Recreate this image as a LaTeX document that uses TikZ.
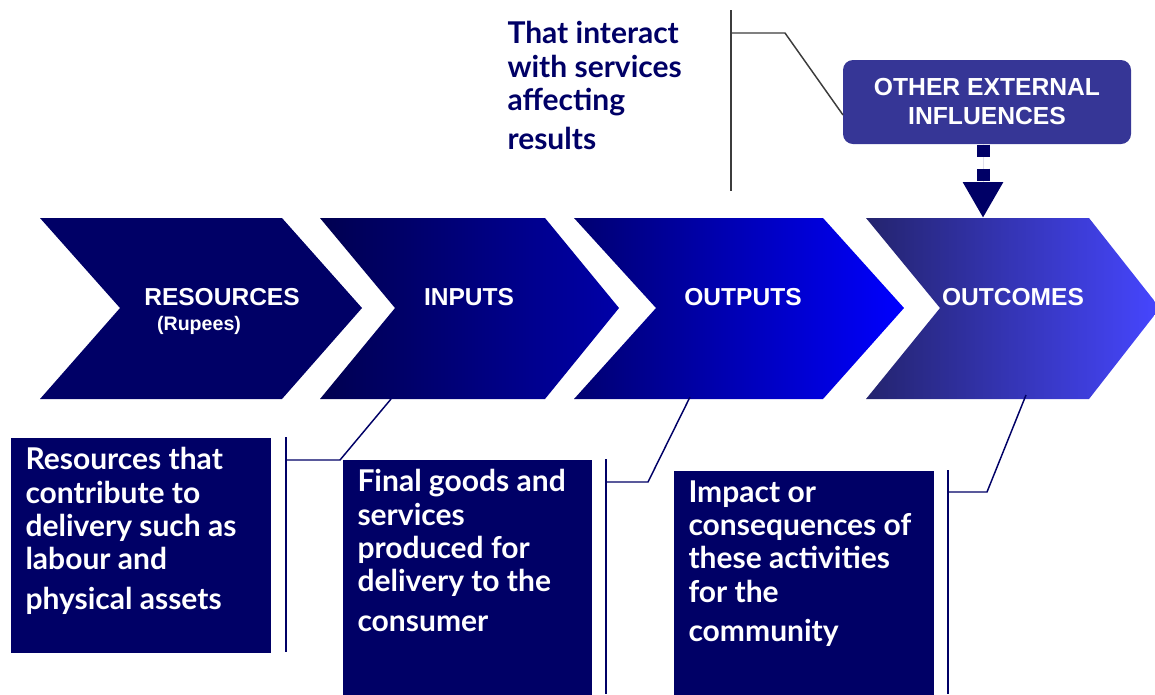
\documentclass[tikz,border=0pt]{standalone}
\usepackage{fontspec}
\setmainfont{Liberation Sans}
\newfontfamily\gillfont{Lato}
\usetikzlibrary{arrows.meta}

\definecolor{navy}{RGB}{0,0,102}
\definecolor{extblue}{RGB}{54,54,150}
\definecolor{leadgray}{RGB}{60,60,60}

\tikzset{every picture/.style={line width=0.75pt}}

\begin{document}
\begin{tikzpicture}[x=0.75pt,y=0.75pt,yscale=-1,xscale=1,
  chevlabel/.style={text=white, font=\fontsize{18.4}{20}\selectfont\bfseries, inner sep=0pt},
  notebox/.style={fill=navy, draw=none, anchor=north west, inner sep=0pt},
  notetext/.style={text=white, font=\gillfont\fontsize{22.5}{25}\selectfont\bfseries, align=left, anchor=north west, inner sep=0pt},
  leader/.style={draw=navy, line width=1.1pt},
  extarrow/.style={draw=navy, fill=navy, line width=9.75pt, dash pattern=on 9pt off 9pt, -{Triangle[length=27pt,width=28.5pt]}}]
%set diagram size
\useasboundingbox (0,0) rectangle (1155,694);

%Shape: Chevron [id:resources]
\fill [navy] (40,218) -- (282,218) -- (362,308) -- (282,399) -- (40,399) -- (120,308) -- cycle ;
%Shape: Chevron [id:inputs]
\path [left color={rgb,255:red,0;green,0;blue,80}, right color={rgb,255:red,0;green,0;blue,168}] (320,218) -- (545,218) -- (619,308) -- (545,399) -- (320,399) -- (395,308) -- cycle ;
%Shape: Chevron [id:outputs]
\path [left color={rgb,255:red,0;green,0;blue,112}, right color={rgb,255:red,0;green,0;blue,255}] (574,218) -- (823,218) -- (904,308) -- (823,399) -- (574,399) -- (656,308) -- cycle ;
%Shape: Chevron [id:outcomes]
\path [left color={rgb,255:red,36;green,36;blue,110}, right color={rgb,255:red,70;green,70;blue,255}] (866,218) -- (1089,218) -- (1160,308) -- (1089,399) -- (866,399) -- (940,308) -- cycle ;

% Text Node
\node [chevlabel] (res) at (222,297) {RESOURCES};
\node [chevlabel, font=\fontsize{14.7}{16}\selectfont\bfseries] (rupees) at (199,325) {(Rupees)};
\node [chevlabel] (inp) at (469,297) {INPUTS};
\node [chevlabel] (outp) at (743,297) {OUTPUTS};
\node [chevlabel] (outc) at (1013,297) {OUTCOMES};

%feet and tops of the chevrons
\coordinate (inp-foot) at (391,399);
\coordinate (outp-foot) at (690,397);
\coordinate (outc-foot) at (1026,395);
\coordinate (outc-top) at (983,218);

%Shape: Rounded Rect [id:ext]
\node [fill=extblue, rounded corners=7.5pt, minimum width=216pt, minimum height=63pt, text=white, align=center, font=\fontsize{18.5}{21.75}\selectfont\bfseries] (ext) at (987,102) {OTHER EXTERNAL\\INFLUENCES};
%Straight Lines [id:ext-arrow]
\draw [extarrow] (ext.south -| outc-top) -- (outc-top) ;

% Text Node
\node [notetext, text=navy] (interact) at (507,21) {That interact\\with services\\affecting\\[4pt]results};
\coordinate (ext-in) at (843,115);
%Straight Lines [id:top-leader]
\draw [leadgray, line width=1.1pt] (731,10) -- (731,191) ;
\draw [leadgray, line width=1.1pt] (731,33) -- (785,33) -- (ext-in) ;

%Shape: Rectangle [id:note1]
\node [notebox, minimum width=195pt, minimum height=161.25pt] (note1) at (10,437) {};
\node [notetext] (txt1) at (25,447) {Resources that\\contribute to\\delivery such as\\labour and\\[4.5pt]physical assets};
\draw [leader] (286,437) -- (286,652) ;
\draw [leader] (286,460) -- (340,460) -- (inp-foot) ;

%Shape: Rectangle [id:note2]
\node [notebox, minimum width=186.75pt, minimum height=176.25pt] (note2) at (342,459) {};
\node [notetext] (txt2) at (357,469) {Final goods and\\services\\produced for\\delivery to the\\[4.5pt]consumer};
\draw [leader] (606,459) -- (606,694) ;
\draw [leader] (606,482) -- (648,482) -- (outp-foot) ;

%Shape: Rectangle [id:note3]
\node [notebox, minimum width=195pt, minimum height=168pt] (note3) at (673,470) {};
\node [notetext] (txt3) at (688,480) {Impact or\\consequences of\\these activities\\for the\\[4.5pt]community};
\draw [leader] (948,470) -- (948,694) ;
\draw [leader] (948,492) -- (987,492) -- (outc-foot) ;

\end{tikzpicture}
\end{document}
